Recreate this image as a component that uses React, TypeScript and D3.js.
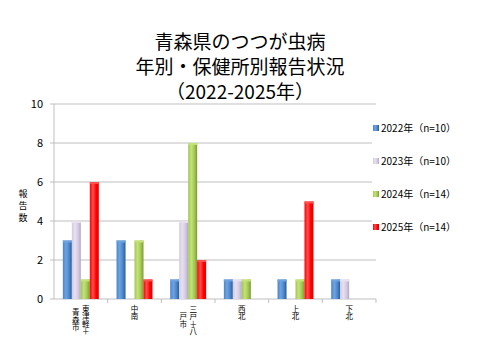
import React from "react";
import * as d3 from "d3";

const categories = ["東津軽＋青森市", "中南", "三戸＋八戸市", "西北", "上北", "下北"];
// vertical label columns (right-to-left) for each category
const categoryColumns = [["東津軽＋", "青森市"], ["中南"], ["三戸＋八", "戸市"], ["西北"], ["上北"], ["下北"]];
const seriesNames = ["2022年（n=10）", "2023年（n=10）", "2024年（n=14）", "2025年（n=14）"];
const values2022 = [3, 3, 1, 1, 1, 1];
const values2023 = [4, 0, 4, 1, 0, 1];
const values2024 = [1, 3, 8, 1, 1, 0];
const values2025 = [6, 1, 2, 0, 5, 0];
const yTicks = [0, 2, 4, 6, 8, 10];
const titleLines = ["青森県のつつが虫病", "年別・保健所別報告状況", "（2022-2025年）"];

const seriesValues = [values2022, values2023, values2024, values2025];
const colors = [
  { dark: "#2a5a96", mid: "#4a86cc", light: "#6fa3e0" },
  { dark: "#b3a8c6", mid: "#d3cae2", light: "#e6e0ef" },
  { dark: "#7a9a38", mid: "#a2c850", light: "#c4e27a" },
  { dark: "#e00000", mid: "#ff0000", light: "#ff5050" },
];

const margin = { left: 54, right: 104, top: 104, bottom: 61 };
const W = 480;
const H = 360;

export default function App() {
  const x0 = d3
    .scaleBand()
    .domain(categories)
    .range([margin.left, W - margin.right])
    .paddingInner(0.33)
    .paddingOuter(0.165);
  const x1 = d3.scaleBand().domain(seriesNames).range([0, x0.bandwidth()]);
  const y = d3.scaleLinear().domain([0, 10]).range([H - margin.bottom, margin.top]);
  const step = x0.step();
  const font = "'Noto Sans CJK JP', 'Noto Sans', sans-serif";

  return (
    <svg width={W} height={H} style={{ position: "absolute", left: 0, top: 0, background: "#fff" }}>
      <defs>
        {colors.map((c, i) => (
          <linearGradient key={i} id={"g" + i} x1="0" x2="1" y1="0" y2="0">
            <stop offset="0" stopColor={c.mid} />
            <stop offset="0.35" stopColor={c.light} />
            <stop offset="0.7" stopColor={c.mid} />
            <stop offset="1" stopColor={c.dark} />
          </linearGradient>
        ))}
      </defs>

      {titleLines.map((t, i) => (
        <text key={t} x={240} y={49 + i * 25} textAnchor="middle" fontSize={19} fontFamily={font} fill="#000">
          {t}
        </text>
      ))}

      {yTicks.map((t) => (
        <g key={t}>
          <line x1={margin.left - 4} x2={W - margin.right} y1={y(t)} y2={y(t)} stroke="#bfbfbf" strokeWidth={1} />
          <text x={43} y={y(t) + 4} textAnchor="end" fontSize={11} fontFamily={font} fill="#000">
            {t}
          </text>
        </g>
      ))}
      <line x1={margin.left} x2={margin.left} y1={y(10)} y2={y(0)} stroke="#bfbfbf" />

      {categories.map((c, i) => (
        <line
          key={c}
          x1={margin.left + step * (i + 1)}
          x2={margin.left + step * (i + 1)}
          y1={y(0)}
          y2={y(0) + 4}
          stroke="#bfbfbf"
        />
      ))}

      {seriesValues.map((vals, s) =>
        vals.map((v, i) => {
          if (v === 0) return null;
          const bx = (x0(categories[i]) as number) + (x1(seriesNames[s]) as number);
          const bw = x1.bandwidth();
          return (
            <g key={s + "-" + i}>
              <rect x={bx} y={y(v)} width={bw} height={y(0) - y(v)} fill={`url(#g${s})`} />
              <rect x={bx} y={y(v)} width={bw} height={2} fill={colors[s].light} />
            </g>
          );
        })
      )}

      {categoryColumns.map((cols, i) => {
        const cx = (x0(categories[i]) as number) + x0.bandwidth() / 2;
        const maxLen = d3.max(cols, (c) => c.length) as number;
        return cols.map((col, j) => (
          <text
            key={i + "-" + j}
            x={cx + ((cols.length - 1) / 2 - j) * 10}
            y={y(0) + 6 + (maxLen * 7.5) / 2}
            textAnchor="middle"
            fontSize={7.5}
            fontFamily={font}
            fill="#000"
            style={{ writingMode: "vertical-rl" }}
          >
            {col}
          </text>
        ));
      })}

      <text
        x={23}
        y={207}
        textAnchor="middle"
        fontSize={9}
        fontFamily={font}
        fill="#000"
        letterSpacing={3}
        style={{ writingMode: "vertical-rl" }}
      >
        報告数
      </text>

      <rect x={372} y={115} width={108} height={125} fill="#fff" />
      {seriesNames.map((n, s) => (
        <g key={n} transform={`translate(373, ${128 + s * 33})`}>
          <rect x={0} y={-3} width={6} height={6} fill={`url(#g${s})`} />
          <text x={8} y={3.5} fontSize={10} fontFamily={font} fill="#000">
            {n}
          </text>
        </g>
      ))}
    </svg>
  );
}
